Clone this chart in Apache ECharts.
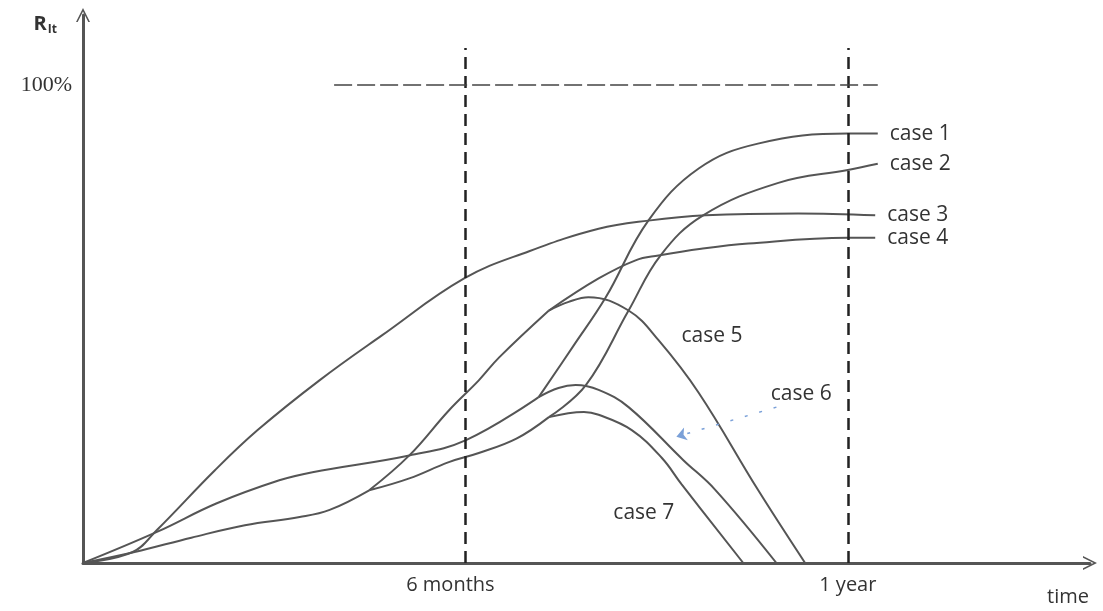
<!DOCTYPE html>
<html>
<head>
<meta charset="UTF-8">
<title>R_It over time</title>
<script src="https://cdn.jsdelivr.net/npm/echarts@6/dist/echarts.min.js"></script>
<style>
  html, body { margin: 0; padding: 0; background: #fff; }
  #chart { width: 1103px; height: 611px; }
</style>
</head>
<body>
<div id="chart"></div>
<script>
// x in months, y in percent of R_It
var lowTrunk = [[0, 0], [0.81, 2.3], [1.7, 5.3], [2.54, 7.9], [3.4, 9.6], [3.87, 11.1], [4.49, 15.2]];
var midTrunk = [[0, 0], [1.16, 6.5], [2.1, 12.5], [3.08, 17.3], [3.6, 19.0], [5.12, 22.5], [6.01, 25.7], [7.15, 34.7]];
var steepTrunk = [[4.49, 15.2], [5.12, 22.5], [5.74, 31.9], [6.21, 38.2], [6.53, 43.0], [7.31, 52.8]];
var gentleTrunk = [[4.49, 15.2], [5.12, 17.7], [5.74, 21.1], [6.21, 23.0], [6.8, 26.0], [7.31, 30.5]];

var case1 = [[7.15, 34.7], [7.7, 45.5], [8.2, 55.5], [8.87, 71.6], [9.66, 82.5], [10.59, 87.7], [12.0, 89.8], [12.47, 89.8]];
var case2 = [[7.31, 30.5], [7.89, 37.2], [8.56, 52.8], [9.06, 64.3], [9.73, 72.7], [10.91, 79.5], [12.0, 82.2], [12.47, 83.5]];
var case3 = [[0, 0], [0.78, 2.3], [1.16, 6.9], [2.07, 19.4], [2.74, 27.8], [3.71, 38.2], [4.69, 47.6], [5.98, 59.5],
             [7.0, 65.2], [8.09, 69.9], [8.87, 71.6], [9.77, 72.7], [11.22, 73.1], [12.43, 72.7]];
var case4 = [[7.31, 52.8], [8.09, 59.5], [8.67, 63.3], [9.03, 64.3], [9.7, 65.7], [10.44, 66.8], [12.0, 68.0], [12.43, 68.0]];
var case5 = [[7.31, 52.8], [7.62, 54.6], [7.93, 55.6], [8.56, 52.8], [9.03, 46.6], [9.66, 35.6], [10.59, 15.3], [11.33, 0]];
var case6 = [[7.15, 34.7], [7.46, 36.6], [7.73, 37.2], [8.09, 36.2], [8.56, 32.6], [9.42, 21.5], [9.92, 15.3], [10.88, 0]];
var case7 = [[7.31, 30.5], [7.86, 31.6], [8.09, 31.0], [8.61, 27.8], [9.08, 22.0], [9.39, 16.5], [10.36, 0]];

var freeLabels = [[9.87, 47.5, 'case 5'], [11.27, 35.3, 'case 6'], [8.8, 10.5, 'case 7']];
var case6Pointer = [[10.88, 32.6], [9.31, 26.4]];

var markX = [6, 12];
var xLabels = { 6: '{m|6 months}', 12: '1 year' };
var fullLevel = 100;
var fullLevelSpan = [3.94, 12.47];
var guideTop = 107.7;

var LINE = '#555';
var TEXT = '#333';
var FONT = 'Open Sans';
var chevron = 'path://M0,20 L10,0 L20,20 L17.6,20 L10,5 L2.4,20 Z';

function curve(data, label) {
  var s = {
    type: 'line',
    data: data,
    smooth: 0.4,
    symbol: 'none',
    silent: true,
    lineStyle: { color: LINE, width: 2 }
  };
  if (label) {
    s.endLabel = {
      show: true,
      formatter: label,
      distance: 12,
      color: TEXT,
      fontFamily: FONT,
      fontSize: 21
    };
  }
  return s;
}

var guides = [];
markX.forEach(function (x) {
  guides.push([{ coord: [x, 0] }, { coord: [x, guideTop] }]);
});
guides.push([{ coord: [fullLevelSpan[0], fullLevel], lineStyle: { width: 1.5, color: '#444', type: [18, 5] } },
             { coord: [fullLevelSpan[1], fullLevel] }]);

var base = curve(lowTrunk);
base.markLine = {
  silent: true,
  symbol: 'none',
  animation: false,
  label: { show: false },
  lineStyle: { color: '#222', width: 2.5, type: [12, 7] },
  data: guides
};

var c6 = curve(case6);
c6.markLine = {
  silent: true,
  symbol: ['none', 'arrow'],
  symbolSize: 10,
  animation: false,
  label: { show: false },
  lineStyle: { color: '#7aa0d8', width: 1.5, type: [3, 12] },
  data: [[{ coord: case6Pointer[0] }, { coord: case6Pointer[1] }]]
};

var chart = echarts.init(document.getElementById('chart'));
chart.setOption({
  animation: false,
  backgroundColor: '#fff',
  grid: { left: 83, right: 13, top: 15, bottom: 48 },
  xAxis: {
    type: 'value',
    min: 0,
    max: 15.8,
    interval: 6,
    name: 'time',
    nameLocation: 'end',
    nameGap: -22,
    nameTextStyle: { color: TEXT, fontFamily: FONT, fontSize: 20, align: 'center', verticalAlign: 'top', padding: [24, 0, 0, 0] },
    axisLine: { lineStyle: { color: '#555', width: 3 }, symbol: ['none', chevron], symbolSize: [20, 14] },
    axisTick: { show: false },
    splitLine: { show: false },
    axisLabel: {
      color: TEXT, fontFamily: FONT, fontSize: 20, margin: 12,
      rich: { m: { color: TEXT, fontFamily: FONT, fontSize: 20, padding: [0, 30, 0, 0] } },
      formatter: function (v) { return xLabels[v] || ''; }
    }
  },
  yAxis: {
    type: 'value',
    min: 0,
    max: 114.6,
    interval: 100,
    name: '{r|R}{s|It}',
    nameLocation: 'end',
    nameGap: -9,
    nameTextStyle: {
      align: 'right', verticalAlign: 'middle', padding: [0, 26, 0, 0],
      rich: {
        r: { fontFamily: FONT, fontSize: 20, color: TEXT, fontWeight: 'bold' },
        s: { fontFamily: FONT, fontSize: 12, color: TEXT, fontWeight: 'bold', padding: [12, 0, 0, 1] }
      }
    },
    axisLine: { lineStyle: { color: '#555', width: 3 }, symbol: ['none', chevron], symbolSize: [20, 14] },
    axisTick: { show: false },
    splitLine: { show: false },
    axisLabel: {
      color: TEXT, fontFamily: 'Liberation Serif', fontSize: 22, margin: 11,
      padding: [10, 0, 0, 0],
      showMaxLabel: false,
      formatter: function (v) { return v === fullLevel ? '100%' : ''; }
    }
  },
  series: [
    base,
    curve(midTrunk),
    curve(steepTrunk),
    curve(gentleTrunk),
    curve(case1, 'case 1'),
    curve(case2, 'case 2'),
    curve(case3, 'case 3'),
    curve(case4, 'case 4'),
    curve(case5),
    c6,
    curve(case7),
    {
      type: 'scatter',
      data: freeLabels,
      symbolSize: 0,
      silent: true,
      itemStyle: { opacity: 1 },
      label: {
        show: true,
        position: 'inside',
        color: TEXT,
        fontFamily: FONT,
        fontSize: 21,
        formatter: function (p) { return p.value[2]; }
      }
    }
  ]
});
</script>
</body>
</html>
